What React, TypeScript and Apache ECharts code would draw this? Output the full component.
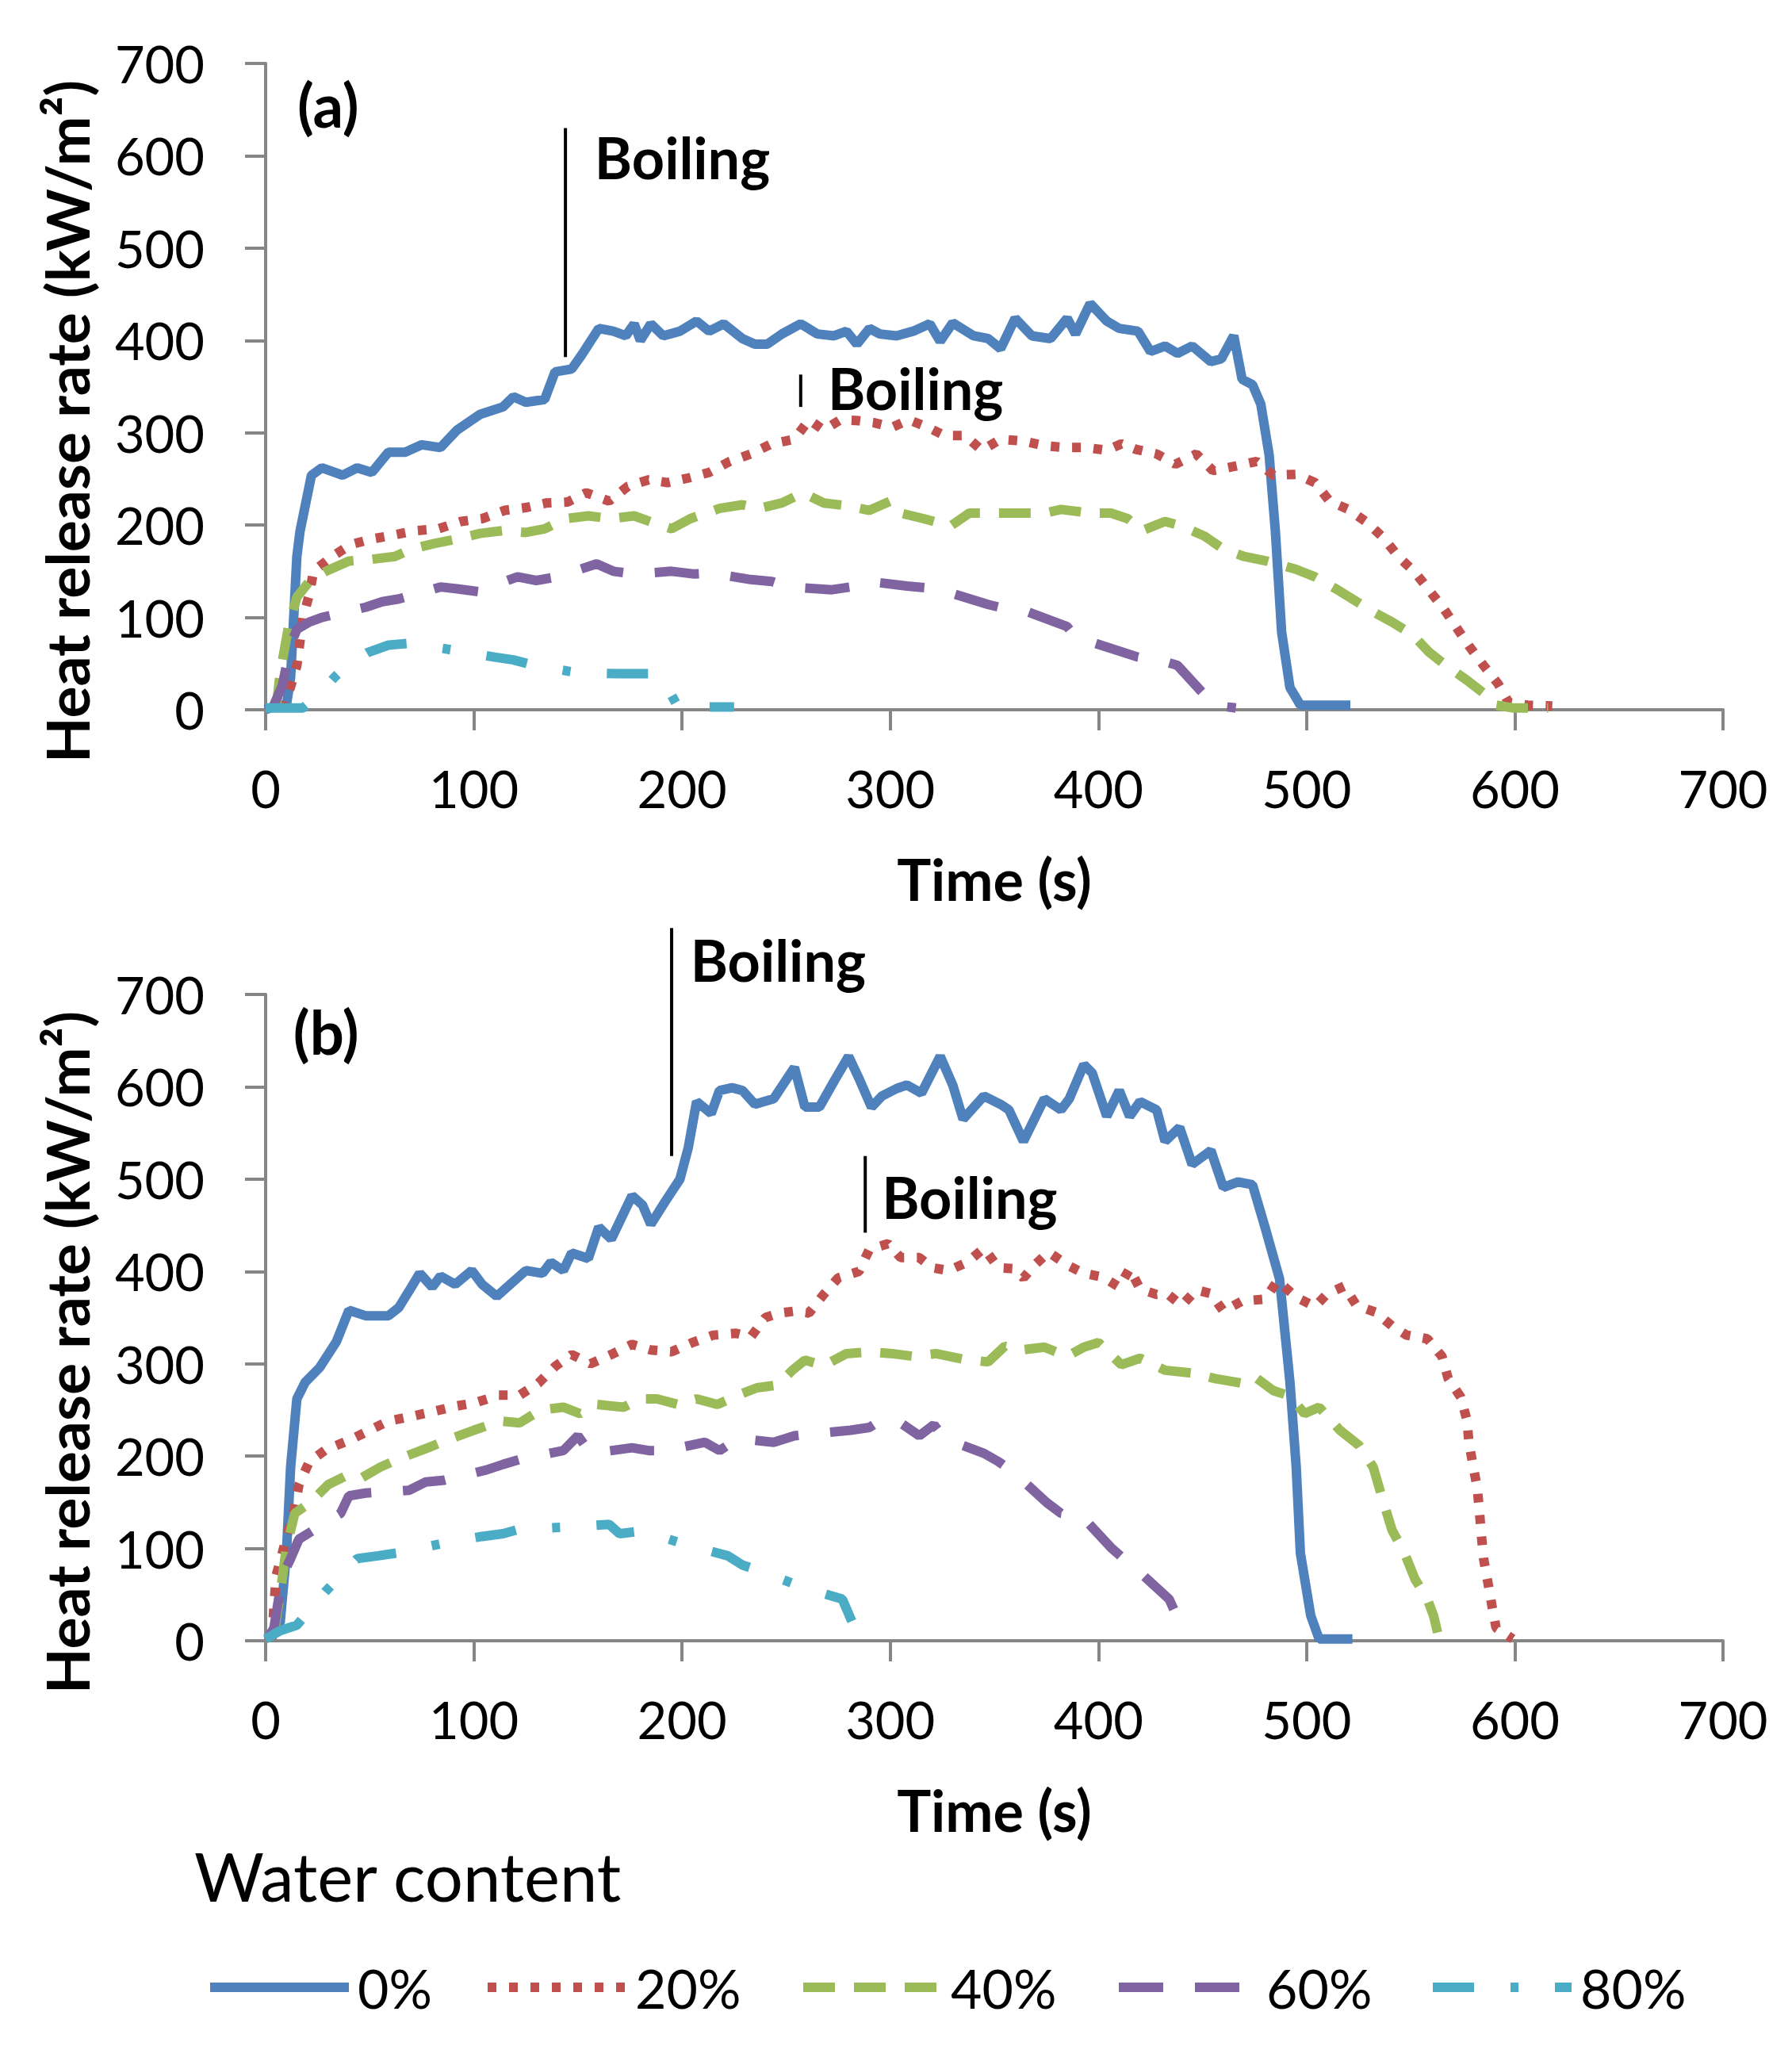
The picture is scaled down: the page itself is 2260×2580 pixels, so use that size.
import React, { useEffect, useRef } from "react";
import * as echarts from "echarts";

const SERIES_NAMES = ["0%", "20%", "40%", "60%", "80%"];
const X_TITLE = "Time (s)";
const Y_TITLE = "Heat release rate (kW/m²)";
const LEGEND_TITLE = "Water content";

// Panel (a)
const a0 = [[0,0],[2,2],[10,5],[12,35],[15,166],[16.5,193],[22,254],[27,262],[37,254],[44,262],[51,257],[59,279],[67,279],[75,287],[84,284],[92,303],[103,320],[114,328],[119,339],[125,333],[134,336],[139,366],[147,369],[152,385],[160,413],[167,410],[173,405],[177,418],[180,400],[185,418],[191,405],[199,410],[207,421],[213,410],[220,418],[229,402],[235,396],[241,396],[248,407],[257,418],[265,407],[273,405],[279,410],[284,396],[290,413],[295,407],[303,405],[311,410],[319,418],[324,399],[330,419],[340,405],[347,402],[353,391],[360,424],[368,405],[377,402],[385,424],[389,407],[396,440],[404,421],[410,413],[419,410],[425,388],[432,394],[438,386],[445,394],[454,377],[459,380],[465,405],[469,358],[474,352],[478,331],[482,276],[485,193],[488,84],[492,24],[497,5],[511,5],[521,5]];
const a20 = [[8,0],[12,25],[15,48],[18,100],[21,125],[23,150],[32,166],[41,179],[51,185],[61,189],[72,194],[83,196],[94,204],[104,207],[115,216],[125,219],[135,224],[145,225],[154,235],[165,226],[174,242],[184,249],[193,246],[203,251],[213,257],[223,269],[233,277],[243,288],[254,293],[261,314],[268,303],[276,314],[285,313],[292,311],[301,306],[309,314],[318,306],[326,297],[336,297],[344,281],[353,293],[364,291],[374,286],[384,284],[394,284],[404,281],[411,288],[418,282],[428,277],[437,266],[447,277],[455,259],[466,264],[476,269],[484,254],[495,255],[504,246],[511,226],[520,217],[529,203],[537,186],[544,166],[552,149],[559,129],[566,109],[572,89],[578,69],[585,48],[592,28],[597,8],[606,5],[618,4]];
const a40 = [[5,0],[7,40],[11,90],[15,122],[21,139],[29,150],[40,161],[51,163],[62,166],[70,174],[81,180],[92,185],[103,191],[114,194],[125,192],[134,196],[144,207],[155,210],[166,207],[177,210],[187,202],[195,196],[204,207],[218,218],[229,222],[237,218],[248,224],[258,235],[268,224],[279,221],[290,216],[300,226],[305,213],[316,207],[329,199],[338,213],[355,213],[374,213],[382,217],[396,213],[406,213],[414,207],[421,194],[432,204],[440,199],[451,188],[460,174],[470,166],[481,161],[495,152],[504,144],[514,131],[522,120],[532,106],[541,95],[551,81],[559,62],[567,48],[577,32],[585,18],[591,5],[599,2],[616,2]];
const a60 = [[3,0],[8,26],[12,70],[15,87],[21,95],[27,100],[48,111],[56,117],[64,120],[84,133],[92,131],[102,128],[121,144],[130,140],[140,144],[159,158],[167,150],[177,147],[195,150],[206,147],[214,148],[233,141],[243,139],[251,133],[272,130],[281,133],[290,139],[308,134],[318,132],[327,128],[347,114],[356,109],[366,106],[385,90],[390,76],[397,73],[419,57],[429,54],[438,48],[451,16],[455,5],[466,2]];
const a80 = [[0,2],[18,2],[25,15],[33,35],[40,50],[49,62],[59,70],[69,72],[89,65],[110,57],[119,54],[129,48],[150,40],[170,39],[189,39],[194,20],[198,3],[225,3]];

// Panel (b)
const b0 = [[1,2],[7,20],[10,95],[12,188],[15,262],[19,280],[26,296],[34,324],[40,358],[48,352],[59,352],[64,361],[70,383],[74,398],[80,383],[84,395],[91,386],[99,401],[104,386],[111,373],[119,389],[125,401],[133,398],[137,410],[143,401],[147,420],[155,414],[160,448],[166,435],[176,482],[181,472],[185,451],[192,476],[199,500],[203,534],[207,584],[214,571],[218,596],[224,599],[229,596],[235,581],[244,587],[254,621],[259,578],[266,578],[273,606],[280,633],[285,609],[291,578],[296,590],[303,598],[308,602],[315,593],[324,633],[330,602],[335,565],[345,590],[353,581],[357,575],[364,541],[374,587],[382,575],[386,587],[393,624],[397,615],[404,568],[410,596],[415,568],[420,584],[428,575],[432,541],[439,556],[445,516],[454,531],[460,491],[467,497],[474,494],[480,448],[487,392],[492,280],[495,188],[497,95],[502,27],[506,2],[522,2]];
const b20 = [[3,2],[5,70],[11,120],[14,144],[16,169],[21,194],[29,207],[40,217],[50,228],[59,238],[70,243],[80,248],[91,254],[101,258],[112,266],[122,266],[131,279],[139,297],[147,310],[156,300],[166,310],[176,321],[185,315],[195,313],[205,323],[215,331],[226,333],[233,329],[240,350],[247,355],[254,357],[261,355],[268,375],[275,393],[285,400],[290,424],[299,430],[305,415],[314,415],[320,404],[328,401],[337,410],[345,425],[352,404],[359,403],[364,393],[369,406],[376,421],[385,407],[393,398],[402,394],[410,383],[415,403],[420,381],[428,375],[433,376],[440,363],[447,380],[454,376],[460,357],[469,368],[480,370],[486,390],[495,372],[504,362],[510,376],[518,384],[524,363],[533,356],[541,341],[548,331],[558,327],[565,308],[568,284],[574,264],[577,239],[578,214],[580,189],[582,165],[583,140],[584,113],[585,89],[587,64],[589,38],[591,14],[599,2]];
const b40 = [[4,8],[7,51],[10,101],[14,138],[21,149],[30,169],[38,178],[45,175],[55,188],[64,197],[78,209],[89,219],[100,228],[113,238],[122,236],[132,250],[143,253],[151,246],[159,256],[172,253],[180,262],[188,262],[198,256],[207,262],[217,256],[228,267],[236,274],[246,277],[253,293],[259,304],[268,298],[279,311],[290,313],[301,311],[311,308],[322,311],[335,305],[347,302],[355,319],[363,315],[374,318],[385,308],[393,318],[400,323],[411,299],[420,306],[432,293],[445,290],[456,284],[469,279],[475,286],[484,271],[492,265],[499,246],[506,253],[516,228],[525,212],[532,188],[536,157],[541,120],[547,95],[552,67],[558,45],[561,27],[563,8],[570,2]];
const b60 = [[1,2],[4,14],[8,70],[12,89],[16,110],[36,138],[40,157],[48,160],[69,163],[77,172],[86,174],[106,185],[114,191],[123,197],[143,206],[150,222],[156,203],[176,209],[184,206],[192,206],[211,215],[218,206],[227,219],[244,215],[254,222],[262,224],[281,228],[290,231],[296,240],[305,236],[314,222],[321,234],[326,219],[345,203],[352,194],[360,181],[375,150],[382,138],[392,135],[406,101],[412,89],[419,76],[434,45],[439,20],[443,5]];
const b80 = [[0,2],[7,11],[15,17],[22,35],[29,54],[44,89],[54,92],[63,95],[84,105],[104,113],[114,116],[122,121],[144,123],[165,126],[170,116],[181,119],[202,104],[222,92],[229,82],[237,76],[258,58],[277,45],[281,24],[285,5]];

const PANEL_DATA = [[a0, a20, a40, a60, a80], [b0, b20, b40, b60, b80]];

// Annotations (data coordinates)
const BOILING_LINES = [
  { g: 0, t: 144, v0: 382, v1: 630 },
  { g: 0, t: 257, v0: 328, v1: 363 },
  { g: 1, t: 195, v0: 525, v1: 772 },
  { g: 1, t: 288, v0: 442, v1: 525 },
];
const BOILING_TEXTS = [
  { g: 0, t: 158, v: 599 },
  { g: 0, t: 270, v: 349 },
  { g: 1, t: 204, v: 738 },
  { g: 1, t: 296, v: 481 },
];
const PANEL_LABELS = [
  { g: 0, t: 30, v: 656, text: "(a)" },
  { g: 1, t: 29, v: 660, text: "(b)" },
];

// Styles
const FONT = "Lato";
const COLORS = ["#4F81BD", "#C0504D", "#9BBB59", "#8064A2", "#4BACC6"];
const DASHES: any[] = ["solid", [11, 16], [40, 24], [56, 40], [52, 46, 10, 46]];
const LINE_W = 12;
const AXIS_COLOR = "#868686";
const LEGEND_LEFT = [259, 609, 1007, 1405, 1801];

function makeOption() {
  const grids = [
    { left: 335, top: 80, width: 1838, height: 815 },
    { left: 335, top: 1254, width: 1838, height: 815 },
  ];
  const axisCommon = {
    axisLine: { show: true, onZero: false, lineStyle: { color: AXIS_COLOR, width: 4 } },
    axisTick: { show: true, inside: false, length: 26, lineStyle: { color: AXIS_COLOR, width: 4 } },
    splitLine: { show: false },
  };
  const xAxis = [0, 1].map((i) => ({
    type: "value",
    gridIndex: i,
    min: 0,
    max: 700,
    interval: 100,
    name: X_TITLE,
    nameLocation: "middle",
    nameGap: 177,
    nameTextStyle: { fontSize: 72, fontWeight: "bold", color: "#000", fontFamily: FONT },
    axisLabel: { fontSize: 65, color: "#000", margin: 66, fontFamily: FONT },
    ...axisCommon,
  }));
  const yAxis = [0, 1].map((i) => ({
    type: "value",
    gridIndex: i,
    min: 0,
    max: 700,
    interval: 100,
    name: Y_TITLE,
    nameLocation: "middle",
    nameGap: 214,
    nameTextStyle: {
      fontSize: 75,
      fontWeight: "bold",
      color: "#000",
      fontFamily: FONT,
      padding: [0, 88, 0, 0],
    },
    axisLabel: { fontSize: 65, color: "#000", margin: 77, fontFamily: FONT },
    ...axisCommon,
  }));
  const series: any[] = [];
  PANEL_DATA.forEach((panel, g) => {
    panel.forEach((data, j) => {
      series.push({
        type: "line",
        name: SERIES_NAMES[j],
        xAxisIndex: g,
        yAxisIndex: g,
        data,
        symbol: "none",
        showSymbol: false,
        clip: false,
        lineStyle: { color: COLORS[j], width: LINE_W, type: DASHES[j] },
        itemStyle: { color: COLORS[j] },
      });
    });
  });
  const legend = SERIES_NAMES.map((name, j) => ({
    data: [name],
    left: LEGEND_LEFT[j],
    top: 2472,
    padding: 0,
    itemWidth: 175,
    itemHeight: 16,
    selectedMode: false,
    lineStyle: { width: LINE_W },
    itemStyle: { color: "rgba(0,0,0,0)", borderWidth: 0, opacity: 0 },
    textStyle: { fontSize: 68, color: "#000", fontFamily: FONT, padding: [0, 0, 0, 6] },
  }));
  return {
    animation: false,
    backgroundColor: "#ffffff",
    textStyle: { fontFamily: FONT },
    title: {
      text: LEGEND_TITLE,
      left: 245,
      top: 2322,
      padding: 0,
      textStyle: { fontSize: 85, fontWeight: "normal", color: "#000", fontFamily: FONT },
    },
    grid: grids,
    xAxis,
    yAxis,
    legend,
    series,
  };
}

export default function App() {
  const ref = useRef<HTMLDivElement>(null);
  useEffect(() => {
    if (!ref.current) return;
    const chart = echarts.init(ref.current, null, { renderer: "svg" });
    chart.setOption(makeOption() as any);
    const px = (g: number, t: number, v: number) =>
      chart.convertToPixel({ gridIndex: g } as any, [t, v]) as number[];
    const elements: any[] = [];
    BOILING_LINES.forEach((l) => {
      const p0 = px(l.g, l.t, l.v0);
      const p1 = px(l.g, l.t, l.v1);
      elements.push({
        type: "line",
        silent: true,
        shape: { x1: p0[0], y1: p0[1], x2: p1[0], y2: p1[1] },
        style: { stroke: "#000", lineWidth: 4 },
        z: 100,
      });
    });
    BOILING_TEXTS.forEach((b) => {
      const p = px(b.g, b.t, b.v);
      elements.push({
        type: "text",
        silent: true,
        x: p[0],
        y: p[1],
        z: 100,
        style: {
          text: "Boiling",
          fontSize: 72,
          fontWeight: "bold",
          fontFamily: FONT,
          fill: "#000",
          align: "left",
          verticalAlign: "middle",
          textAlign: "left",
          textVerticalAlign: "middle",
        },
      });
    });
    PANEL_LABELS.forEach((b) => {
      const p = px(b.g, b.t, b.v);
      elements.push({
        type: "text",
        silent: true,
        x: p[0],
        y: p[1],
        z: 100,
        style: {
          text: b.text,
          fontSize: 76,
          fontWeight: "bold",
          fontFamily: FONT,
          fill: "#000",
          align: "center",
          verticalAlign: "middle",
          textAlign: "center",
          textVerticalAlign: "middle",
        },
      });
    });
    chart.setOption({ graphic: elements });
    return () => chart.dispose();
  }, []);
  return (
    <div
      ref={ref}
      style={{ position: "absolute", left: 0, top: 0, width: 2260, height: 2580, background: "#fff" }}
    />
  );
}
